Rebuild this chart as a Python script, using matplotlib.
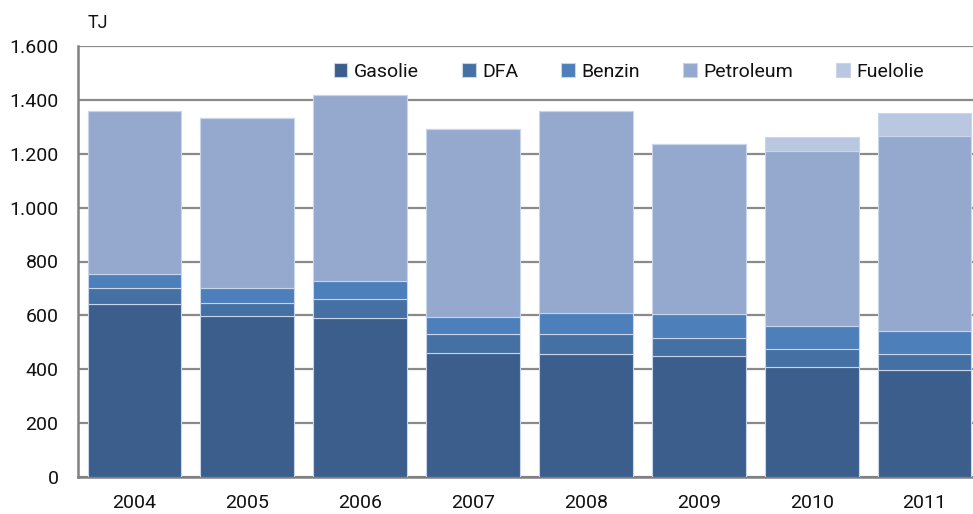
import matplotlib
matplotlib.use('Agg')
import matplotlib.pyplot as plt
from matplotlib.ticker import FuncFormatter
import numpy as np

plt.rcParams['font.family'] = ['Roboto', 'DejaVu Sans']

years = ['2004', '2005', '2006', '2007', '2008', '2009', '2010', '2011']
gasolie = [643, 596, 591, 459, 458, 450, 408, 398]
dfa = [57, 49, 71, 71, 72, 67, 66, 57]
benzin = [55, 58, 66, 64, 79, 89, 88, 87]
petroleum = [605, 629, 689, 698, 750, 630, 649, 725]
fuelolie = [0, 0, 0, 0, 0, 0, 51, 83]

series = [
    ('Gasolie', gasolie, '#3b5e8c'),
    ('DFA', dfa, '#4470a3'),
    ('Benzin', benzin, '#4d7fbb'),
    ('Petroleum', petroleum, '#95a9cf'),
    ('Fuelolie', fuelolie, '#bac7e0'),
]

fig = plt.figure(figsize=(9.73, 5.14), dpi=100)
ax = fig.add_axes([78 / 973, 37 / 514, 903 / 973, 431 / 514])

x = np.arange(len(years))
bottom = np.zeros(len(years))
for name, vals, col in series:
    ax.bar(x, vals, width=0.83, bottom=bottom, color=col, label=name,
           edgecolor='#c9d5ea', linewidth=0.8, zorder=3)
    bottom += np.array(vals)

ax.set_xlim(-0.5, len(years) - 0.5)
ax.set_ylim(0, 1600)
ax.set_yticks(range(0, 1601, 200))
ax.yaxis.set_major_formatter(FuncFormatter(lambda v, p: f'{int(v):,}'.replace(',', '.')))
ax.set_xticks(x)
ax.set_xticklabels(years)

ax.grid(axis='y', color='#8a8a8a', linewidth=1.6, zorder=0)
for s in ['top', 'right']:
    ax.spines[s].set_visible(False)
for s in ['left', 'bottom']:
    ax.spines[s].set_color('#808080')
    ax.spines[s].set_linewidth(1.8)

ax.tick_params(axis='both', length=0, labelsize=14, colors='#111111')
ax.tick_params(axis='y', pad=14)
ax.tick_params(axis='x', pad=12)

fig.text(88 / 973, 1 - 23 / 514, 'TJ', fontsize=13, ha='left', va='center', color='#111111')

ax.legend(loc='center', bbox_to_anchor=(629 / 973, 1 - 72 / 514),
          bbox_transform=fig.transFigure, ncol=5, frameon=False,
          fontsize=14, handlelength=0.7, handleheight=0.7,
          handletextpad=0.35, columnspacing=2.2, borderpad=0,
          labelcolor='#111111')

fig.savefig('out.png', dpi=100)
